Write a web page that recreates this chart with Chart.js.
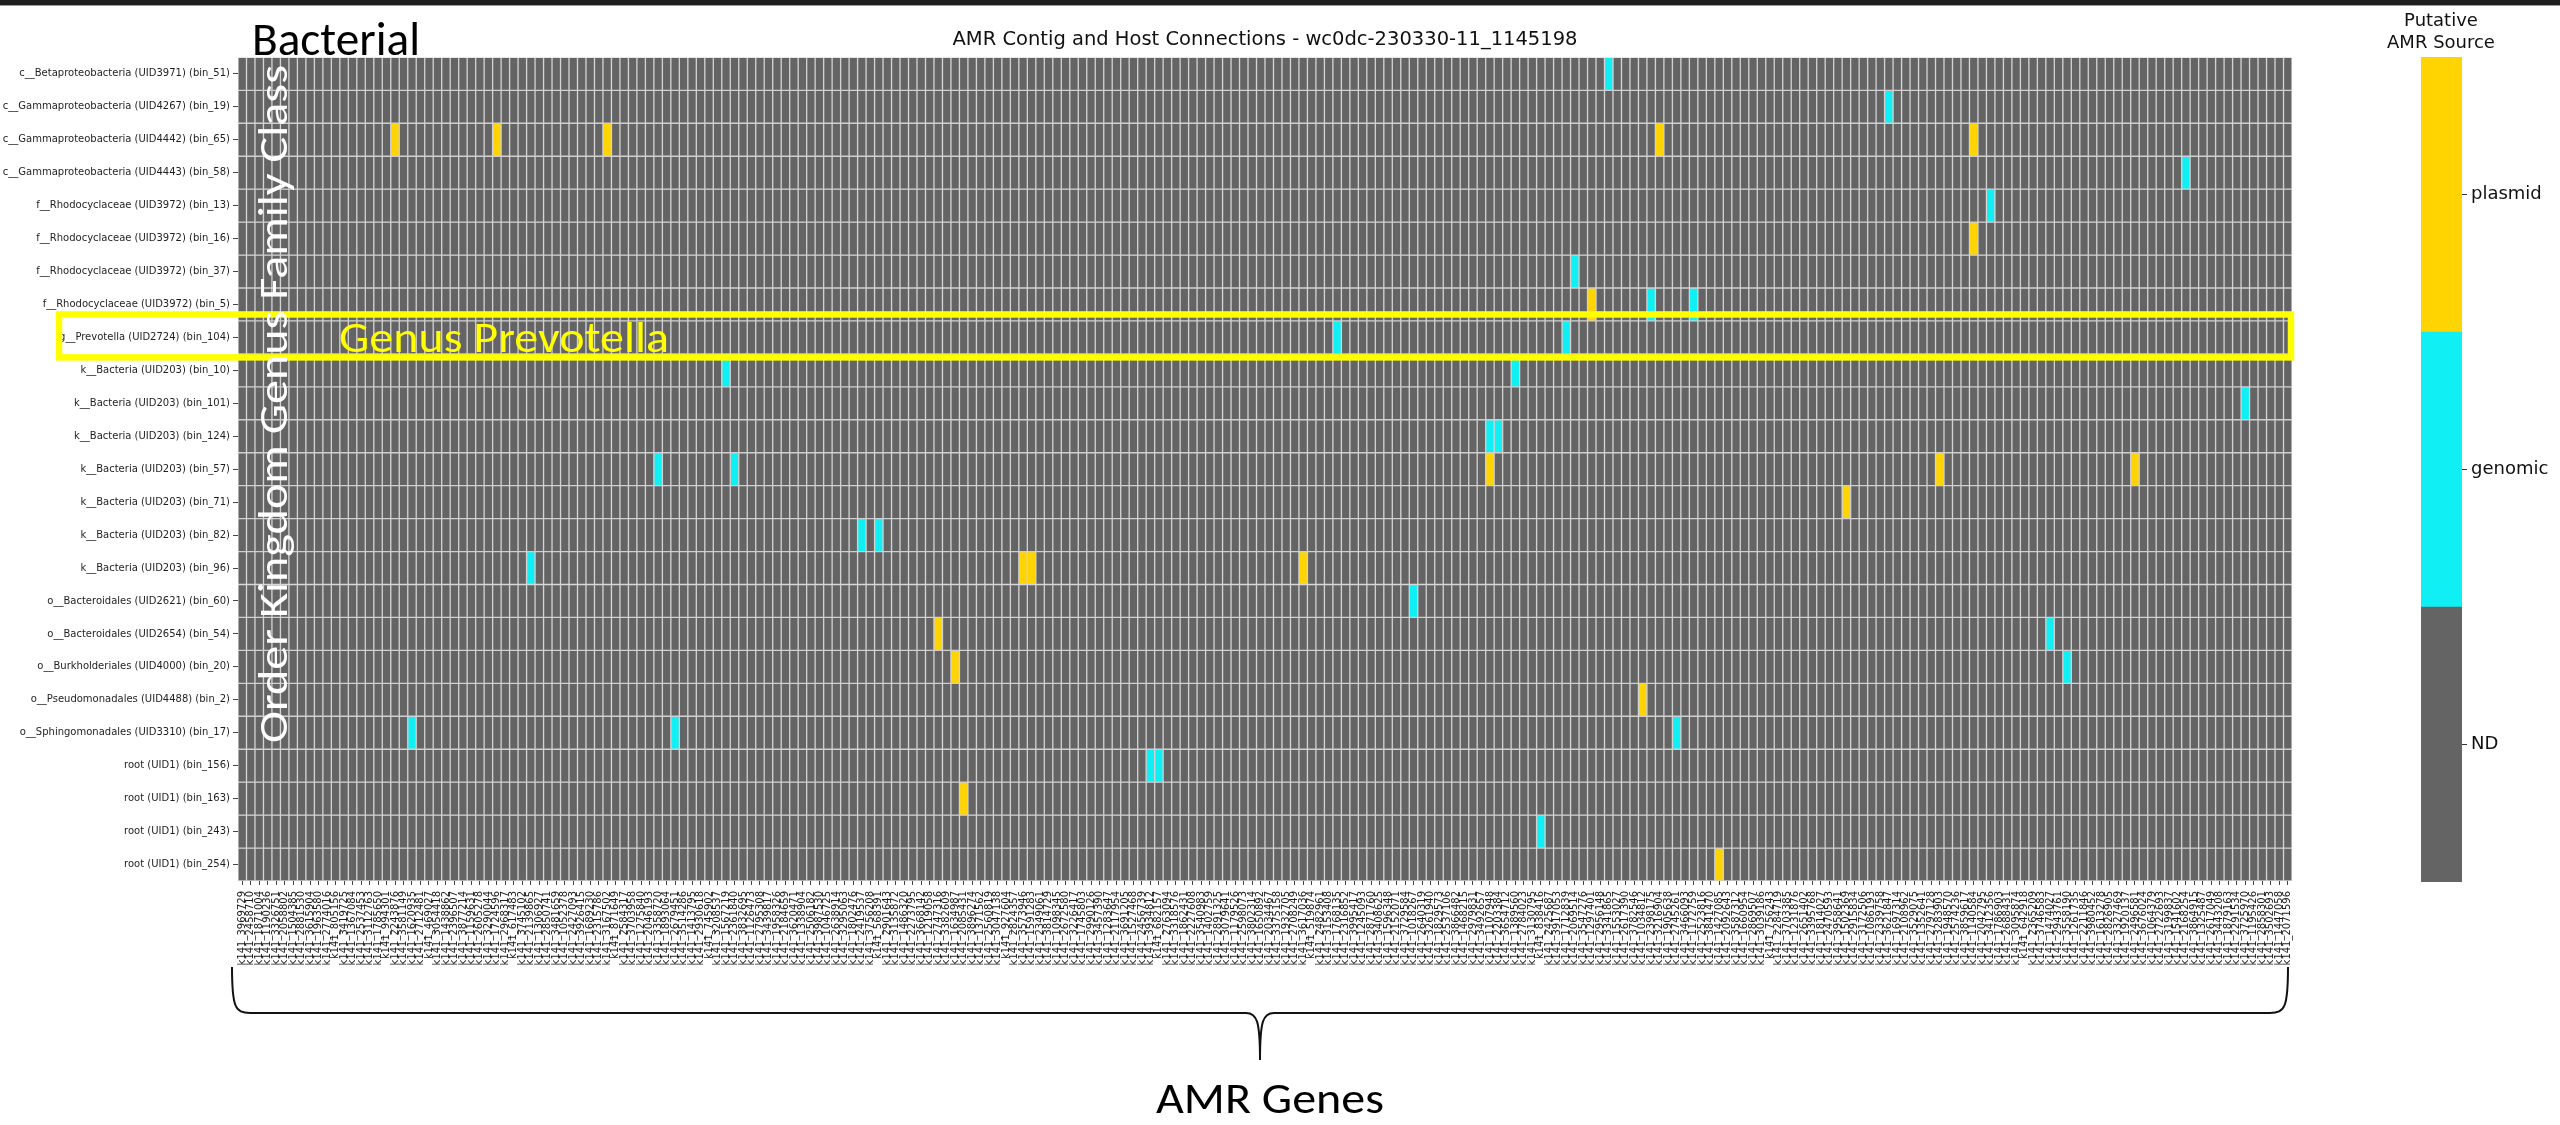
<!DOCTYPE html>
<html>
<head>
<meta charset="utf-8">
<title>AMR Contig and Host Connections</title>
<script src="https://cdn.jsdelivr.net/npm/chart.js@4.4.1/dist/chart.umd.min.js"></script>
<style>
  html, body { margin: 0; padding: 0; background: #fff; width: 2560px; height: 1125px; overflow: hidden; }
  #topRule { position: absolute; left: 0; top: 0; width: 2560px; height: 5px; background: #1e1e1e; border-bottom: 1px solid #9a9a9a; }
  #heat { position: absolute; left: 0; top: 0; }
  #scaleBar { position: absolute; left: 2322px; top: 0; }
</style>
</head>
<body>
<div id="topRule"></div>
<canvas id="heat" width="2530" height="1125"></canvas>
<canvas id="scaleBar" width="238" height="900"></canvas>
<script>
// Host bins (rows), top to bottom
const hostBins = [
  'c__Betaproteobacteria (UID3971) (bin_51)',
  'c__Gammaproteobacteria (UID4267) (bin_19)',
  'c__Gammaproteobacteria (UID4442) (bin_65)',
  'c__Gammaproteobacteria (UID4443) (bin_58)',
  'f__Rhodocyclaceae (UID3972) (bin_13)',
  'f__Rhodocyclaceae (UID3972) (bin_16)',
  'f__Rhodocyclaceae (UID3972) (bin_37)',
  'f__Rhodocyclaceae (UID3972) (bin_5)',
  'g__Prevotella (UID2724) (bin_104)',
  'k__Bacteria (UID203) (bin_10)',
  'k__Bacteria (UID203) (bin_101)',
  'k__Bacteria (UID203) (bin_124)',
  'k__Bacteria (UID203) (bin_57)',
  'k__Bacteria (UID203) (bin_71)',
  'k__Bacteria (UID203) (bin_82)',
  'k__Bacteria (UID203) (bin_96)',
  'o__Bacteroidales (UID2621) (bin_60)',
  'o__Bacteroidales (UID2654) (bin_54)',
  'o__Burkholderiales (UID4000) (bin_20)',
  'o__Pseudomonadales (UID4488) (bin_2)',
  'o__Sphingomonadales (UID3310) (bin_17)',
  'root (UID1) (bin_156)',
  'root (UID1) (bin_163)',
  'root (UID1) (bin_243)',
  'root (UID1) (bin_254)'
];

// AMR gene contigs (columns), left to right
const contigIds = [
  3969729, 2458710, 1871004, 1190236, 3326751, 2058802, 1504385, 2881530, 3615904, 1963580,
  2774016, 805156, 3419725, 1367084, 2537453, 3112763, 1785650, 994301, 2243876, 3581149,
  1620935, 2712481, 469027, 3054418, 1438862, 2396507, 3877214, 1159631, 2605278, 3290044,
  1724596, 2968317, 617483, 3745102, 2139865, 1306927, 2850741, 3481659, 1052378, 2427093,
  3926415, 1689230, 2315786, 3167502, 871649, 2584317, 3703958, 1275840, 2046193, 3358720,
  1893064, 2679451, 3514286, 1413795, 2930618, 745902, 3208537, 1567219, 2361840, 3832695,
  1126473, 2795308, 3439817, 1958326, 2184659, 3620471, 1338904, 2506182, 3987530, 1046725,
  2638914, 3295063, 1802476, 2419537, 3756208, 568391, 2901643, 3135872, 1486320, 2273795,
  3668142, 1219058, 2747316, 3382609, 1634987, 2085431, 3896274, 1371562, 2560819, 3047138,
  927604, 2824357, 3573946, 1591283, 2349061, 3814729, 1098345, 2672580, 3226417, 1745803,
  2990126, 3457390, 1283647, 2117954, 3691205, 1527468, 2456739, 3934812, 682157, 2763094,
  3318576, 1862431, 2227608, 3540983, 1402759, 2891325, 3079641, 1179526, 2598073, 3802314,
  1650892, 2034467, 3375158, 1932705, 2708249, 3617036, 519874, 2482961, 3153408, 1768135,
  2316852, 3995417, 1245093, 2871760, 3408625, 1596348, 2152071, 3729584, 1018267, 2640319,
  3261940, 1829573, 2537106, 3866482, 1468215, 2979831, 3492657, 1107948, 2203384, 3654712,
  1389560, 2784023, 3130795, 838416, 2425687, 3917053, 1712839, 2069514, 3547276, 1297401,
  2956148, 3341865, 1553027, 2617390, 3782546, 1034812, 2398175, 3216904, 1905638, 2745261,
  3466093, 1172759, 2523816, 3841470, 1427085, 2092643, 3587312, 1660954, 2869507, 3039186,
  756243, 2284719, 3703385, 1231876, 2651402, 3395768, 1814027, 2470593, 3958641, 1502369,
  2915834, 3172506, 1086193, 2339758, 3621847, 1697314, 2108962, 3529075, 1352641, 2797128,
  3283903, 1948570, 2574236, 3859617, 1140584, 2042795, 3412356, 1786903, 2688431, 3095874,
  642918, 2365209, 3746583, 1474027, 2943761, 3558190, 1261735, 2211846, 3980452, 1613278,
  2826905, 3327469, 1920137, 2496581, 3676024, 1064379, 2722693, 3199837, 1541602, 2168254,
  3864915, 1325487, 2617049, 3443208, 1879163, 2291534, 3725970, 1195426, 2858301, 3502693,
  1447058, 2071596
];
const geneLabels = contigIds.map(id => 'k141_' + id);

// Host-contig links: [row, column]
const genomicHits = [
  [0, 161], [1, 194], [3, 229], [4, 206], [6, 157], [7, 166], [7, 171],
  [8, 129], [8, 156], [9, 57], [9, 150], [10, 236], [11, 147], [11, 148],
  [12, 49], [12, 58], [14, 73], [14, 75], [15, 34], [16, 138], [17, 213],
  [18, 215], [20, 20], [20, 51], [20, 169], [21, 107], [21, 108], [23, 153]
];
const plasmidHits = [
  [2, 18], [2, 30], [2, 43], [2, 167], [2, 204], [5, 204], [7, 159],
  [12, 147], [12, 200], [12, 223], [13, 189], [15, 92], [15, 93], [15, 125],
  [17, 82], [18, 84], [19, 165], [22, 85], [24, 174]
];

const sourceNames = ['ND', 'genomic', 'plasmid'];
const sourceColors = ['#646464', '#10f0f4', '#ffd400'];

// 0 = ND, 1 = genomic, 2 = plasmid
const sourceGrid = hostBins.map(() => geneLabels.map(() => 0));
genomicHits.forEach(([r, c]) => { sourceGrid[r][c] = 1; });
plasmidHits.forEach(([r, c]) => { sourceGrid[r][c] = 2; });

const heatDatasets = hostBins.map((name, r) => ({
  label: name,
  data: geneLabels.map(() => [r, r + 1]),
  backgroundColor: sourceGrid[r].map(v => sourceColors[v]),
  borderColor: '#d0d0d0',
  borderWidth: 1,
  borderSkipped: false,
  grouped: false,
  barPercentage: 1,
  categoryPercentage: 1,
  yAxisID: 'y'
}));

const noteFamily = 'Carlito, Lato, "Open Sans", sans-serif';

function fitText(ctx, text, x, y, width, size, color, angle) {
  ctx.save();
  ctx.translate(x, y);
  if (angle) ctx.rotate(angle);
  ctx.font = size + 'px ' + noteFamily;
  ctx.textAlign = 'left';
  ctx.textBaseline = 'alphabetic';
  const w = ctx.measureText(text).width;
  ctx.scale(width / w, 1);
  ctx.fillStyle = color;
  ctx.fillText(text, 0, 0);
  ctx.restore();
}

// Annotations: group captions, highlighted genus row and the gene brace
const annotations = {
  id: 'annotations',
  afterDraw(chart) {
    const { ctx, chartArea: a } = chart;
    const y = chart.scales.y;
    const rowIdx = hostBins.indexOf('g__Prevotella (UID2724) (bin_104)');
    const rTop = y.getPixelForValue(rowIdx);
    const rBot = y.getPixelForValue(rowIdx + 1);

    // highlighted row frame
    ctx.save();
    ctx.strokeStyle = '#ffff00';
    ctx.lineWidth = 6.5;
    ctx.strokeRect(59, rTop - 6.5, (a.right - 1) - 59, (rBot + 3.5) - (rTop - 6.5));
    ctx.restore();

    fitText(ctx, 'Genus Prevotella', 339, rBot - 2, 330, 44, '#ffff00');
    fitText(ctx, 'Bacterial', 252, 55, 168, 48, '#000');
    fitText(ctx, 'Order Kingdom Genus Family Class', 287, 743, 678, 40, '#fff', -Math.PI / 2);

    // curly brace under the gene axis
    const L = a.left - 6, R = a.right - 4, mid = (L + R) / 2;
    const top = 967, line = 1013, tip = 1060;
    ctx.save();
    ctx.strokeStyle = '#111';
    ctx.lineWidth = 2;
    ctx.beginPath();
    ctx.moveTo(L, top);
    ctx.bezierCurveTo(L, line - 6, L + 3, line, L + 18, line);
    ctx.lineTo(mid - 14, line);
    ctx.bezierCurveTo(mid - 3, line, mid, line + 8, mid, tip);
    ctx.bezierCurveTo(mid, line + 8, mid + 3, line, mid + 14, line);
    ctx.lineTo(R - 18, line);
    ctx.bezierCurveTo(R - 3, line, R, line - 6, R, top);
    ctx.stroke();
    ctx.restore();

    fitText(ctx, 'AMR Genes', mid + 10 - 114, 1113, 228, 44, '#000');
  }
};

new Chart(document.getElementById('heat'), {
  type: 'bar',
  data: { labels: geneLabels, datasets: heatDatasets },
  options: {
    responsive: false,
    animation: false,
    devicePixelRatio: 1,
    layout: { padding: 0 },
    plugins: {
      legend: { display: false },
      tooltip: { enabled: false },
      title: {
        display: true,
        text: 'AMR Contig and Host Connections - wc0dc-230330-11_1145198',
        color: '#111',
        font: { family: '"DejaVu Sans", sans-serif', size: 19.5, weight: 'normal' },
        padding: { top: 28, bottom: 6 }
      }
    },
    scales: {
      x: {
        type: 'category',
        offset: true,
        grid: { display: true, drawOnChartArea: false, drawTicks: true, tickLength: 4, offset: false, color: '#444' },
        border: { display: false },
        ticks: {
          autoSkip: false, minRotation: 90, maxRotation: 90, padding: 6,
          color: '#1a1a1a', font: { family: '"DejaVu Sans", sans-serif', size: 10 }
        },
        afterFit: s => { s.height = 244; }
      },
      y: {
        type: 'linear',
        position: 'left',
        min: 0,
        max: hostBins.length,
        reverse: true,
        afterBuildTicks: s => { s.ticks = hostBins.map((_, i) => ({ value: i + 0.5 })); },
        ticks: {
          autoSkip: false, padding: 3, color: '#1e1e1e',
          font: { family: '"DejaVu Sans", sans-serif', size: 10 },
          callback: (v, i) => hostBins[i]
        },
        grid: { display: true, drawOnChartArea: false, drawTicks: true, tickLength: 5, color: '#444' },
        border: { display: false },
        afterFit: s => { s.width = 238; }
      },
      yR: {
        type: 'linear',
        position: 'right',
        display: true,
        grid: { display: false },
        ticks: { display: false },
        border: { display: false },
        afterFit: s => { s.width = 238; }
      }
    }
  },
  plugins: [annotations]
});

// Colour key for the putative AMR source
new Chart(document.getElementById('scaleBar'), {
  type: 'bar',
  data: {
    labels: ['source'],
    datasets: sourceNames.map((n, i) => ({
      label: n,
      data: [[i, i + 1]],
      backgroundColor: sourceColors[i],
      borderWidth: 0,
      grouped: false,
      barPercentage: 1,
      categoryPercentage: 1,
      yAxisID: 'y'
    }))
  },
  options: {
    responsive: false,
    animation: false,
    devicePixelRatio: 1,
    layout: { padding: { bottom: 18 } },
    plugins: {
      legend: { display: false },
      tooltip: { enabled: false },
      title: {
        display: true,
        text: ['Putative', 'AMR Source'],
        color: '#111',
        font: { family: '"DejaVu Sans", sans-serif', size: 18, weight: 'normal', lineHeight: 1.25 },
        padding: { top: 10, bottom: 2 }
      }
    },
    scales: {
      x: { display: false },
      y: {
        position: 'right',
        min: 0,
        max: sourceNames.length,
        afterBuildTicks: s => { s.ticks = sourceNames.map((_, i) => ({ value: i + 0.5 })); },
        ticks: {
          padding: 4, color: '#111',
          font: { family: '"DejaVu Sans", sans-serif', size: 18 },
          callback: (v, i) => sourceNames[i]
        },
        grid: { display: true, drawOnChartArea: false, drawTicks: true, tickLength: 5, color: '#333' },
        border: { display: false },
        afterFit: s => { s.width = 98; }
      },
      yL: {
        position: 'left',
        display: true,
        grid: { display: false },
        ticks: { display: false },
        border: { display: false },
        afterFit: s => { s.width = 99; }
      }
    }
  }
});
</script>
</body>
</html>
